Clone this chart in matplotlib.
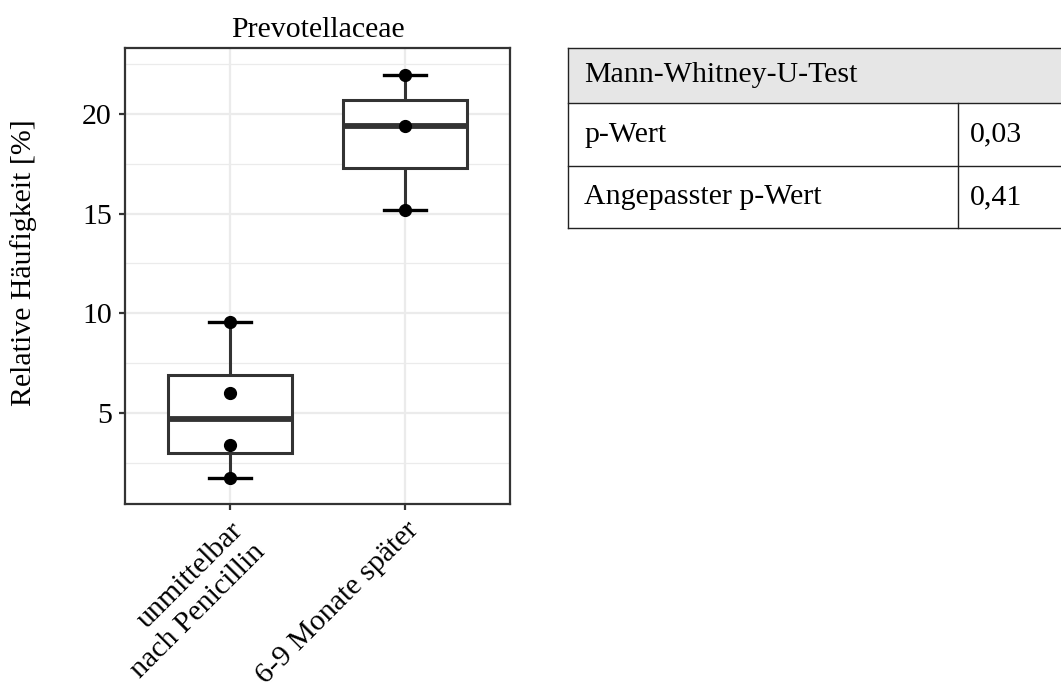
import matplotlib
matplotlib.use("Agg")
import matplotlib.pyplot as plt
from matplotlib.patches import Rectangle
from matplotlib.lines import Line2D

plt.rcParams['font.family'] = ['Liberation Serif', 'DejaVu Serif']

categories = ["unmittelbar\nnach Penicillin", "6-9 Monate später"]
group1 = [1.74, 3.4, 6.0, 9.56]
group2 = [15.2, 19.4, 21.95]
title = "Prevotellaceae"
ylabel = "Relative Häufigkeit [%]"
yticks = [5, 10, 15, 20]
table_header = "Mann-Whitney-U-Test"
table_rows = ["p-Wert", "Angepasster p-Wert"]
table_vals = ["0,03", "0,41"]

FS = 21.5
W, H = 1061, 689
fig = plt.figure(figsize=(W / 100, H / 100), dpi=100)

def fx(px):
    return px / W

def fy(py):
    return 1 - py / H

ax = fig.add_axes([fx(125), fy(504), fx(510) - fx(125), fy(48) - fy(504)])
dark = "#333333"
grid = "#ebebeb"

bp = ax.boxplot([group1, group2], positions=[1, 2], widths=0.71, whis=1.5,
                patch_artist=True, showfliers=False, manage_ticks=False,
                boxprops=dict(facecolor='white', edgecolor=dark, lw=2.2),
                medianprops=dict(color=dark, lw=4.2),
                whiskerprops=dict(color=dark, lw=2.2),
                capprops=dict(color='black', lw=2.4),
                capwidths=0.24, zorder=2)
for b in bp['boxes']:
    b.set_zorder(3)
for m in bp['medians']:
    m.set_zorder(4)

for pos, vals in zip([1, 2], [group1, group2]):
    ax.plot([pos] * len(vals), vals, 'o', color='black', ms=8.5, zorder=5)

ax.set_xlim(0.4, 2.6)
ax.set_ylim(0.44, 23.3)
ax.set_yticks(yticks)
ax.set_yticks([2.5, 7.5, 12.5, 17.5, 22.5], minor=True)
ax.set_xticks([1, 2])
ax.grid(True, which='major', color=grid, lw=1.6, zorder=0)
ax.grid(True, which='minor', axis='y', color=grid, lw=0.9, zorder=0)
ax.set_axisbelow(True)

for s in ax.spines.values():
    s.set_color(dark)
    s.set_linewidth(1.6)
ax.tick_params(axis='both', which='major', color=dark, length=4.5, width=1.6,
               labelsize=FS, labelcolor='black', pad=5)
ax.tick_params(axis='y', which='minor', length=0)
ax.set_yticklabels([str(v) for v in yticks])
ax.set_xticklabels(categories, rotation=45, ha='right', va='top',
                   rotation_mode='anchor', multialignment='right', linespacing=1.25)
ax.set_title(title, fontsize=FS, pad=8)
ax.set_ylabel(ylabel, fontsize=FS)
ax.yaxis.set_label_coords(-0.228, 0.53)

# Table
x0, xdiv, x1 = 568, 958, 1075
ys = [48, 103, 166, 228]
fig.patches.append(Rectangle((fx(x0), fy(ys[1])), fx(x1) - fx(x0), fy(ys[0]) - fy(ys[1]),
                             transform=fig.transFigure, facecolor='#e6e6e6',
                             edgecolor='none', zorder=1))
lc = '#222222'
for y in ys:
    fig.lines.append(Line2D([fx(x0), fx(x1)], [fy(y), fy(y)], transform=fig.transFigure,
                            color=lc, lw=1.0))
fig.lines.append(Line2D([fx(x0), fx(x0)], [fy(ys[0]), fy(ys[-1])], transform=fig.transFigure,
                        color=lc, lw=1.0))
fig.lines.append(Line2D([fx(xdiv), fx(xdiv)], [fy(ys[1]), fy(ys[-1])], transform=fig.transFigure,
                        color=lc, lw=1.0))
tx = 584
fig.text(fx(tx), fy((ys[0] + ys[1]) / 2), table_header, fontsize=FS, va='center', ha='left')
for i, (r, v) in enumerate(zip(table_rows, table_vals)):
    yc = fy((ys[i + 1] + ys[i + 2]) / 2)
    fig.text(fx(tx), yc, r, fontsize=FS, va='center', ha='left')
    fig.text(fx(xdiv + 12), yc, v, fontsize=FS, va='center', ha='left')

fig.savefig("out.png", dpi=100)
